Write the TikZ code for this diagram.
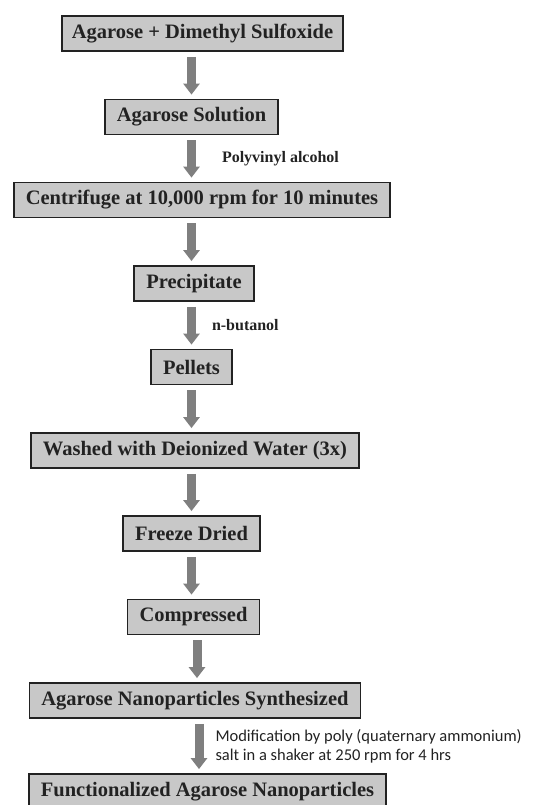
\documentclass[tikz,border=0pt]{standalone}
\usepackage{fontspec}
\setmainfont{Liberation Serif}
\newfontfamily\notefont{Carlito}
\usetikzlibrary{
  arrows.meta,
  calc
}
\definecolor{boxgray}{HTML}{C8C8C8}
\definecolor{arrowgray}{HTML}{7F7F7F}
\definecolor{inkgray}{HTML}{222222}
\tikzset{
  stepbox/.style={
    draw=inkgray,
    line width=1.8pt,
    fill=boxgray,
    text=inkgray,
    minimum height=35pt,
    inner xsep=12pt,
    font=\bfseries\fontsize{20.5}{24}\selectfont
  },
  flowarrow/.style={
    arrowgray,
    line width=9pt,
    -{Triangle[width=16pt,length=11pt]},
    shorten <=5pt,
    shorten >=4pt
  },
  reagent/.style={
    text=inkgray,
    inner sep=0pt,
    font=\bfseries\fontsize{16}{18}\selectfont
  },
  condition/.style={
    text=inkgray,
    inner sep=0pt,
    align=left,
    font=\notefont\fontsize{16.5}{19}\selectfont
  }
}
\begin{document}
\begin{tikzpicture}[x=1pt,y=-1pt]
\useasboundingbox (0,0) rectangle (542,805);
\node[stepbox, inner xsep=10pt] (agar) at (202.5,33.5) {Agarose + Dimethyl Sulfoxide};
\node[stepbox] (sol) at (191.5,117) {Agarose Solution};
\node[stepbox] (cent) at (202,200) {Centrifuge at 10,000 rpm for 10 minutes};
\node[stepbox] (prec) at (194,283.5) {Precipitate};
\node[stepbox] (pell) at (191.5,367) {Pellets};
\node[stepbox] (wash) at (195,450.5) {Washed with Deionized Water (3x)};
\node[stepbox] (dry) at (191.5,533.5) {Freeze Dried};
\node[stepbox] (comp) at (193.5,617) {Compressed};
\node[stepbox] (nano) at (195,700.5) {Agarose Nanoparticles Synthesized};
\node[stepbox] (func) at (207.5,791.5) {Functionalized Agarose Nanoparticles};
% arrows do not sit on the box centres
\coordinate (spine) at (191.5,0);
\coordinate (spineb) at (197,0);
\coordinate (spinec) at (199,0);
\draw[flowarrow] (agar.south -| spine) -- (sol.north -| spine);
\draw[flowarrow] (sol.south -| spine) -- node[reagent, right=26pt] {Polyvinyl alcohol} (cent.north -| spine);
\draw[flowarrow] (cent.south -| spine) -- (prec.north -| spine);
\draw[flowarrow] (prec.south -| spine) -- node[reagent, right=16pt] {n-butanol} (pell.north -| spine);
\draw[flowarrow] (pell.south -| spine) -- (wash.north -| spine);
\draw[flowarrow] (wash.south -| spine) -- (dry.north -| spine);
\draw[flowarrow] (dry.south -| spine) -- (comp.north -| spine);
\draw[flowarrow] (comp.south -| spineb) -- (nano.north -| spineb);
\draw[flowarrow] (nano.south -| spinec) -- node[condition, right=12pt] {Modification by poly (quaternary ammonium)\\salt in a shaker at 250 rpm for 4 hrs} (func.north -| spinec);
\end{tikzpicture}
\end{document}
